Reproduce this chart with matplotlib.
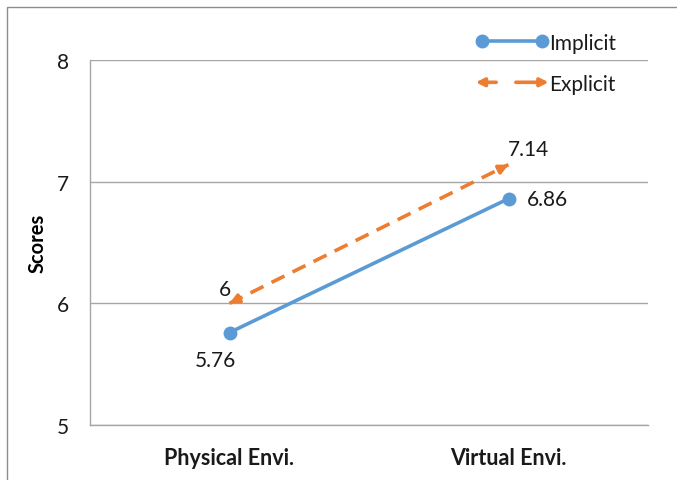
import matplotlib
matplotlib.use("Agg")
import matplotlib.pyplot as plt
from matplotlib.lines import Line2D
from matplotlib.patches import FancyArrowPatch, Rectangle
from matplotlib.legend_handler import HandlerBase

plt.rcParams['font.family'] = ['Lato', 'DejaVu Sans']

categories = ["Physical Envi.", "Virtual Envi."]
implicit = [5.76, 6.86]
explicit = [6.0, 7.14]

BLUE = "#5B9BD5"
ORANGE = "#ED7D31"
GRID = "#A6A6A6"


class DoubleArrowHandler(HandlerBase):
    # two short arrows pointing outwards, like a dashed double arrow
    def create_artists(self, legend, orig_handle, xdescent, ydescent,
                       width, height, fontsize, trans):
        y = height / 2 - ydescent
        x0, x1 = -xdescent, width - xdescent
        left = FancyArrowPatch((x0 + 0.28 * width, y), (x0, y), arrowstyle="-|>",
                               mutation_scale=12, lw=2.6, color=ORANGE,
                               shrinkA=0, shrinkB=0, transform=trans)
        right = FancyArrowPatch((x1 - 0.45 * width, y), (x1, y), arrowstyle="-|>",
                                mutation_scale=12, lw=2.6, color=ORANGE,
                                shrinkA=0, shrinkB=0, transform=trans)
        return [left, right]


fig = plt.figure(figsize=(6.77, 4.81), dpi=100)
ax = fig.add_axes([90 / 677, 1 - 426 / 481, 558 / 677, 365 / 481])

x = [0, 1]
ax.plot(x, implicit, color=BLUE, lw=2.6, marker="o", markersize=9,
        solid_capstyle="round", zorder=3)

# explicit: dashed line with arrow heads at both ends
ax.plot(x, explicit, color=ORANGE, lw=2.6, ls=(0, (4, 2.5)), zorder=3)
dx = 0.03
slope = explicit[1] - explicit[0]
ax.annotate("", xy=(x[0], explicit[0]), xytext=(x[0] + dx, explicit[0] + dx * slope),
            arrowprops=dict(arrowstyle="-|>", color=ORANGE, lw=2.6,
                            mutation_scale=13, shrinkA=0, shrinkB=0), zorder=4)
ax.annotate("", xy=(x[1], explicit[1]), xytext=(x[1] - dx, explicit[1] - dx * slope),
            arrowprops=dict(arrowstyle="-|>", color=ORANGE, lw=2.6,
                            mutation_scale=13, shrinkA=0, shrinkB=0), zorder=4)

# value labels
lab = dict(fontsize=15, color="#1a1a1a")
ax.annotate(f"{implicit[0]:g}", (x[0], implicit[0]), xytext=(-10, -20),
            textcoords="offset points", ha="center", va="center", **lab)
ax.annotate(f"{implicit[1]:g}", (x[1], implicit[1]), xytext=(28, 0),
            textcoords="offset points", ha="center", va="center", **lab)
ax.annotate(f"{explicit[0]:g}", (x[0], explicit[0]), xytext=(-3.6, 10),
            textcoords="offset points", ha="center", va="center", **lab)
ax.annotate(f"{explicit[1]:g}", (x[1], explicit[1]), xytext=(14.4, 11.5),
            textcoords="offset points", ha="center", va="center", **lab)

ax.set_xlim(-0.5, 1.5)
ax.set_ylim(5, 8)
ax.set_yticks([5, 6, 7, 8])
ax.set_xticks(x)
ax.set_xticklabels(categories, fontsize=15.5, fontweight="bold")
ax.tick_params(axis="y", labelsize=15, length=0, pad=15, labelcolor="#1a1a1a")
ax.tick_params(axis="x", length=0, pad=16, labelcolor="#1a1a1a")
ax.set_ylabel("Scores", fontsize=14.5, fontweight="bold")
ax.yaxis.set_label_coords(-42 / 558, 0.5)

ax.grid(axis="y", color=GRID, lw=1)
ax.set_axisbelow(True)
for s in ["top", "right"]:
    ax.spines[s].set_visible(False)
for s in ["left", "bottom"]:
    ax.spines[s].set_color(GRID)
    ax.spines[s].set_linewidth(1)

handles = [Line2D([], [], color=BLUE, lw=2.6, marker="o", markersize=9),
           Line2D([], [], color=ORANGE)]
leg = fig.legend(handles, ["Implicit", "Explicit"], loc="upper left",
                 bbox_to_anchor=(457 / 677, 1 - 15 / 481), frameon=False,
                 fontsize=15, numpoints=2, handlelength=3.5, handletextpad=0.0,
                 labelspacing=1.0, handler_map={handles[1]: DoubleArrowHandler()})
for t in leg.get_texts():
    t.set_color("#1a1a1a")

# outer chart border
fig.patches.append(Rectangle((7 / 677, -0.1), 1.2, 1.1 - 8 / 481,
                             transform=fig.transFigure, fill=False,
                             edgecolor="#8c8c8c", lw=1))

fig.savefig("out.png", dpi=100)
